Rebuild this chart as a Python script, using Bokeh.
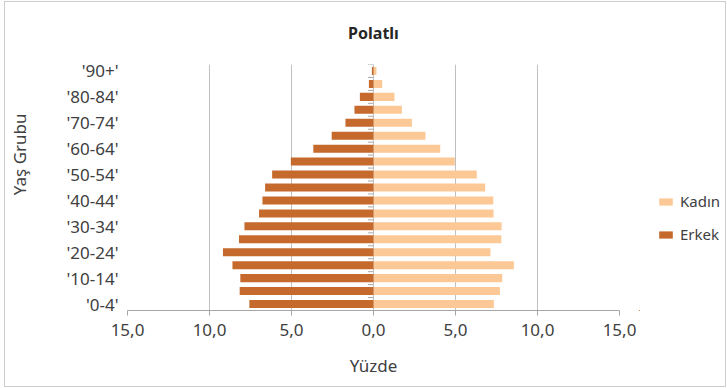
from bokeh.plotting import figure
from bokeh.layouts import row
from bokeh.models import (ColumnDataSource, Range1d, FixedTicker, Legend,
                          LegendItem)
from bokeh.embed import file_html
from bokeh.resources import INLINE

# Age groups, youngest first (index 0 sits at the bottom of the pyramid)
age_groups = ["'0-4'", "'5-9'", "'10-14'", "'15-19'", "'20-24'", "'25-29'",
              "'30-34'", "'35-39'", "'40-44'", "'45-49'", "'50-54'", "'55-59'",
              "'60-64'", "'65-69'", "'70-74'", "'75-79'", "'80-84'", "'85-89'",
              "'90+'"]

# Share of each sex by age group (%)
kadin = [7.34, 7.71, 7.85, 8.56, 7.13, 7.79, 7.81, 7.32, 7.30, 6.81,
         6.30, 4.96, 4.07, 3.17, 2.34, 1.73, 1.28, 0.53, 0.18]
erkek = [7.57, 8.16, 8.12, 8.60, 9.18, 8.20, 7.87, 6.98, 6.77, 6.61,
         6.18, 5.04, 3.67, 2.55, 1.71, 1.16, 0.83, 0.28, 0.10]

x_ticks = [-15, -10, -5, 0, 5, 10, 15]
x_tick_labels = ["15,0", "10,0", "5,0", "0,0", "5,0", "10,0", "15,0"]

FONT = "Noto Sans"
TEXT = "#404040"
SIZE = "17px"
KADIN_COLOR = "#FCC996"
ERKEK_COLOR = "#C56A2C"
GRID = "#C0C0C0"
NBSP = "\u00a0"

TOP, BOTTOM = 62, 76
FRAME_H = 246

idx = list(range(len(age_groups)))
src = ColumnDataSource(dict(
    y=idx,
    kadin=kadin,
    erkek_neg=[-v for v in erkek],
))


def bars(fig):
    rk = fig.hbar(y="y", left=0, right="kadin", height=0.62, source=src,
                  fill_color=KADIN_COLOR, line_color=None)
    re = fig.hbar(y="y", left="erkek_neg", right=0, height=0.62, source=src,
                  fill_color=ERKEK_COLOR, line_color=None)
    return rk, re


# ---- pyramid ----
p = figure(frame_width=492, frame_height=FRAME_H, output_backend="svg",
           toolbar_location=None,
           x_range=Range1d(-15, 15), y_range=Range1d(-0.5, len(age_groups) - 0.5),
           min_border_left=121, min_border_right=20,
           min_border_top=TOP, min_border_bottom=BOTTOM)

p.outline_line_color = None
p.background_fill_color = "white"
p.border_fill_color = "white"

p.title.text = "Polatlı"
p.title.align = "center"
p.title.vertical_align = "top"
p.title.text_font = FONT
p.title.text_font_size = "16px"
p.title.text_font_style = "bold"
p.title.text_color = "#262626"
p.title.standoff = 38

bars(p)

# Small category ticks on the zero line, between the bars
bounds = [i - 0.5 for i in range(len(age_groups) + 1)]
p.segment(x0=[-0.33] * len(bounds), x1=[0] * len(bounds), y0=bounds, y1=bounds,
          line_color="#A6A6A6", line_width=1, level="underlay")

# X axis
p.xaxis.ticker = FixedTicker(ticks=x_ticks)
p.xaxis.major_label_overrides = {t: s for t, s in zip(x_ticks, x_tick_labels)}
p.xaxis.minor_tick_line_color = None
p.xaxis.major_tick_in = 0
p.xaxis.major_tick_out = 5
p.xaxis.major_tick_line_color = "#A6A6A6"
p.xaxis.axis_line_color = "#A6A6A6"
p.xaxis.major_label_standoff = 8
p.xaxis.major_label_text_font = FONT
p.xaxis.major_label_text_font_size = SIZE
p.xaxis.major_label_text_color = TEXT
p.xaxis.axis_label = "Yüzde"
p.xaxis.axis_label_text_font = FONT
p.xaxis.axis_label_text_font_size = SIZE
p.xaxis.axis_label_text_font_style = "normal"
p.xaxis.axis_label_text_color = TEXT
p.xaxis.axis_label_standoff = 15

# Y axis: every other age group labelled; the axis title sits a little
# above the vertical centre, so it is padded at its start
p.yaxis.ticker = FixedTicker(ticks=idx[::2])
p.yaxis.major_label_overrides = {i: age_groups[i] for i in idx[::2]}
p.yaxis.axis_line_color = None
p.yaxis.major_tick_line_color = None
p.yaxis.minor_tick_line_color = None
p.yaxis.major_tick_out = 0
p.yaxis.major_label_standoff = 9
p.yaxis.major_label_text_font = FONT
p.yaxis.major_label_text_font_size = SIZE
p.yaxis.major_label_text_color = TEXT
p.yaxis.axis_label = NBSP * 15 + "Yaş Grubu"
p.yaxis.axis_label_text_font = FONT
p.yaxis.axis_label_text_font_size = SIZE
p.yaxis.axis_label_text_font_style = "normal"
p.yaxis.axis_label_text_color = TEXT
p.yaxis.axis_label_standoff = 32

p.xgrid.ticker = FixedTicker(ticks=x_ticks)
p.xgrid.grid_line_color = GRID
p.ygrid.grid_line_color = None

# ---- legend panel (same bars, kept out of its visible range) ----
lg = figure(frame_width=86, frame_height=FRAME_H, output_backend="svg",
            toolbar_location=None, x_axis_location=None, y_axis_location=None,
            min_border_left=0, min_border_right=0,
            min_border_top=TOP, min_border_bottom=BOTTOM,
            x_range=Range1d(100, 101), y_range=Range1d(100, 101))
lg.grid.visible = False
lg.outline_line_color = None
lg.border_fill_color = "white"
key_k, key_e = bars(lg)

legend = Legend(items=[LegendItem(label="Kadın", renderers=[key_k]),
                       LegendItem(label="Erkek", renderers=[key_e])],
                location=(18, 66), orientation="vertical",
                glyph_width=17, glyph_height=9, label_height=20, spacing=13,
                label_standoff=6, padding=0, margin=0,
                border_line_color=None, background_fill_alpha=0,
                label_text_font=FONT, label_text_font_size="15px",
                label_text_color=TEXT)
lg.add_layout(legend)

layout = row(p, lg, margin=(1, 0, 0, 4),
             styles={"border": "1px solid #CCCCCC"})

open("out.html", "w").write(file_html(layout, INLINE))
